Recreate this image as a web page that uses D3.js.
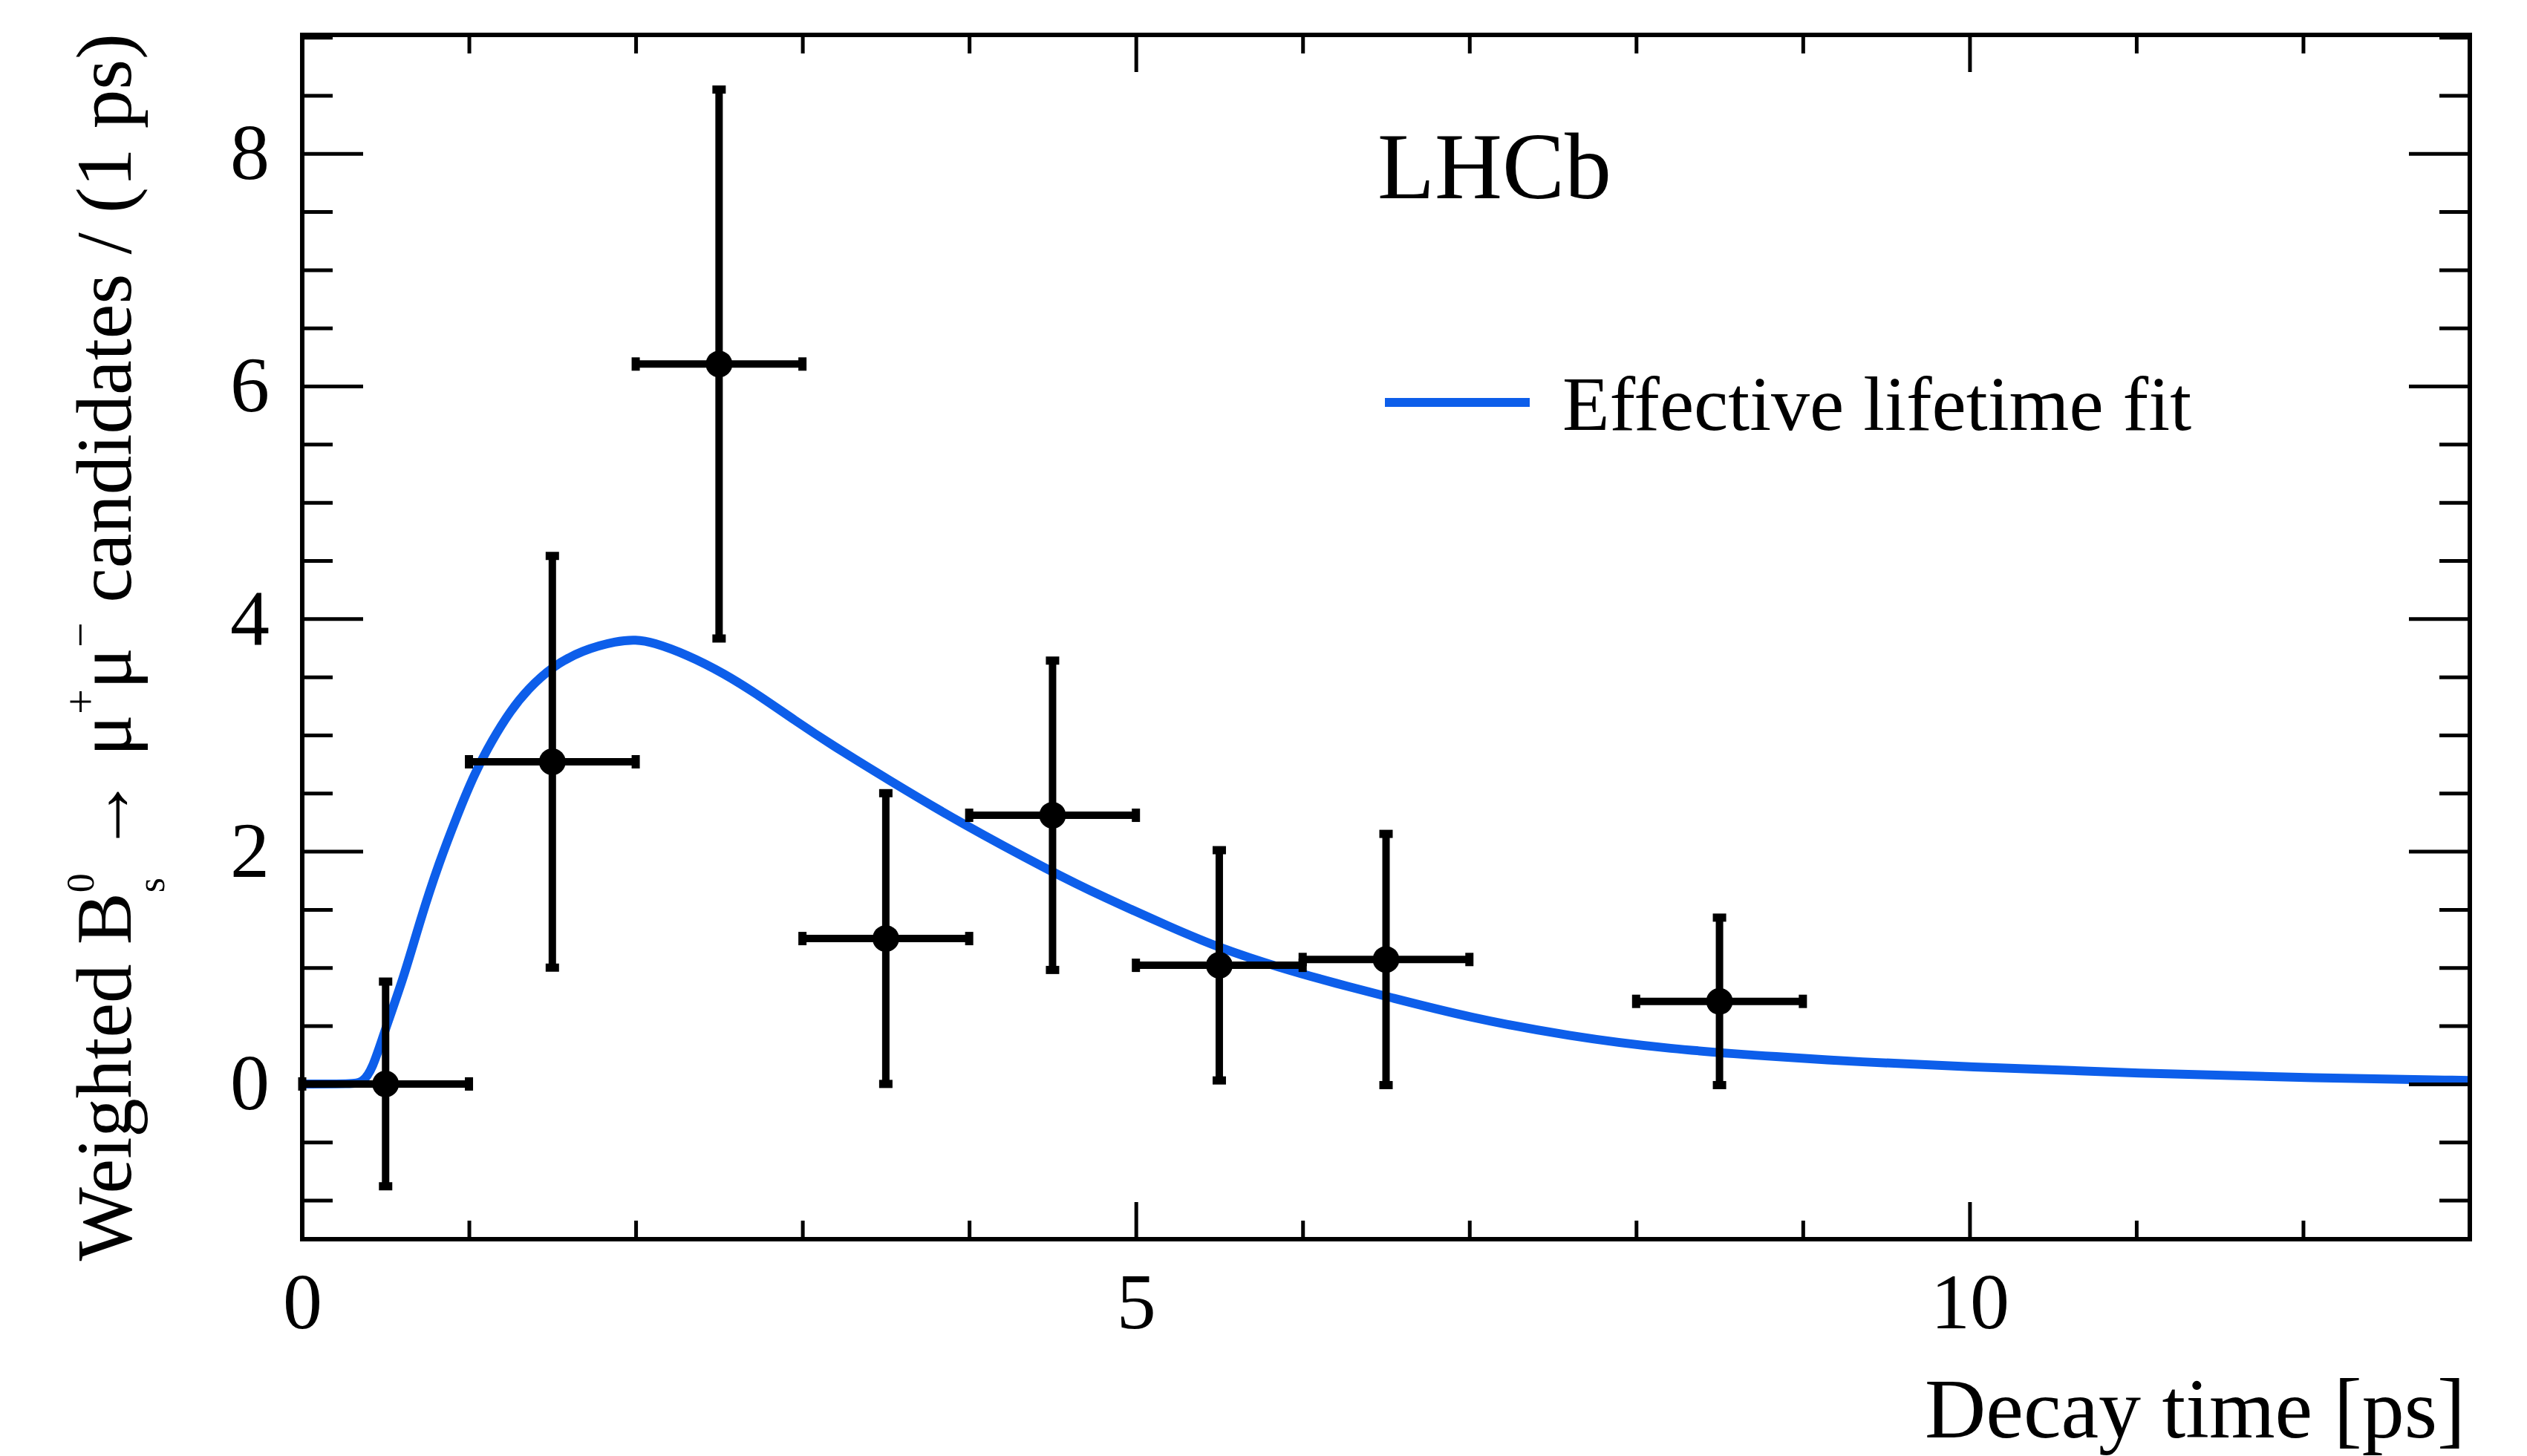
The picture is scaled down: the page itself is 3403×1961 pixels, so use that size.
<!DOCTYPE html>
<html>
<head>
<meta charset="utf-8">
<script src="https://cdn.jsdelivr.net/npm/d3@7"></script>
<style>
  body { margin: 0; background: #fff; }
  text { font-family: "Liberation Serif", "DejaVu Serif", serif; fill: #000; }
</style>
</head>
<body>
<div id="chart"></div>
<script>
// binned data (weighted candidates per 1 ps)
var binCenter = [0.5, 1.5, 2.5, 3.5, 4.5, 5.5, 6.5, 8.5];
var binHalf   = [0.5, 0.5, 0.5, 0.5, 0.5, 0.5, 0.5, 0.5];
var binValue  = [0.00, 2.77, 6.19, 1.25, 2.31, 1.02, 1.07, 0.71];
var binErr    = [0.88, 1.77, 2.36, 1.25, 1.33, 0.99, 1.08, 0.72];

// effective lifetime fit
var fitTime  = [0, 0.30, 0.36, 0.42, 0.50, 0.61, 0.71, 0.82, 0.93, 1.03, 1.14, 1.25, 1.35, 1.50, 1.68, 1.89, 2.00, 2.10, 2.31, 2.53, 2.74, 2.95, 3.17, 3.51, 3.94, 4.50, 4.80, 5.22, 5.50, 5.86, 6.21, 6.51, 7.00, 7.60, 8.19, 8.88, 9.33, 9.95, 11.02, 12.09, 13.0];
var fitValue = [0, 0, 0.01, 0.12, 0.48, 0.92, 1.42, 1.90, 2.31, 2.66, 2.96, 3.21, 3.39, 3.59, 3.73, 3.81, 3.82, 3.80, 3.69, 3.53, 3.34, 3.13, 2.92, 2.62, 2.25, 1.82, 1.61, 1.34, 1.17, 1.00, 0.86, 0.75, 0.57, 0.41, 0.30, 0.23, 0.19, 0.15, 0.09, 0.05, 0.03];

// ticks
var xMajor = [0, 5, 10];
var xMinor = [1, 2, 3, 4, 6, 7, 8, 9, 11, 12];
var yMajor = [0, 2, 4, 6, 8];
var yMinor = [-1, -0.5, 0.5, 1, 1.5, 2.5, 3, 3.5, 4.5, 5, 5.5, 6.5, 7, 7.5, 8.5, 9];

var W = 3403, H = 1961;
var margin = {top: 47, right: 77, bottom: 292, left: 407};
var width = W - margin.left - margin.right;
var height = H - margin.top - margin.bottom;

var svg = d3.select("#chart").append("svg")
  .attr("width", W)
  .attr("height", H);

var g = svg.append("g").attr("transform", "translate(" + margin.left + "," + margin.top + ")");

var x = d3.scaleLinear().domain([0, 13]).range([0, width]);
var y = d3.scaleLinear().domain([-1.335, 9.02]).range([height, 0]);

var tickFont = 106;

// clip for the curve
svg.append("defs").append("clipPath").attr("id", "clip")
  .append("rect").attr("width", width).attr("height", height);

// fit curve
var line = d3.line()
  .curve(d3.curveBasis)
  .x(function(d) { return x(d.t); })
  .y(function(d) { return y(d.v); });

var fit = fitTime.map(function(t, i) { return {t: t, v: fitValue[i]}; });

g.append("path")
  .datum(fit)
  .attr("clip-path", "url(#clip)")
  .attr("d", line)
  .attr("fill", "none")
  .attr("stroke", "#0d5eea")
  .attr("stroke-width", 12);

// axes, ROOT style: ticks point inwards, mirrored on top/right
function styleAxis(sel) {
  sel.select(".domain").remove();
  sel.selectAll(".tick line").attr("stroke", "#000").attr("stroke-width", 5);
  sel.selectAll(".tick text").style("font-size", tickFont + "px").attr("fill", "#000");
}

g.append("g").attr("transform", "translate(0," + height + ")")
  .call(d3.axisBottom(x).tickValues(xMajor).tickSize(-50).tickPadding(45).tickFormat(d3.format("d")))
  .call(styleAxis)
  .selectAll(".tick text").attr("dy", "0.71em");
g.append("g").attr("transform", "translate(0," + height + ")")
  .call(d3.axisBottom(x).tickValues(xMinor).tickSize(-25).tickFormat(""))
  .call(styleAxis);
g.append("g")
  .call(d3.axisTop(x).tickValues(xMajor).tickSize(-50).tickFormat(""))
  .call(styleAxis);
g.append("g")
  .call(d3.axisTop(x).tickValues(xMinor).tickSize(-25).tickFormat(""))
  .call(styleAxis);

g.append("g")
  .call(d3.axisLeft(y).tickValues(yMajor).tickSize(-82).tickPadding(44).tickFormat(d3.format("d")))
  .call(styleAxis);
g.append("g")
  .call(d3.axisLeft(y).tickValues(yMinor).tickSize(-41).tickFormat(""))
  .call(styleAxis);
g.append("g").attr("transform", "translate(" + width + ",0)")
  .call(d3.axisRight(y).tickValues(yMajor).tickSize(-82).tickFormat(""))
  .call(styleAxis);
g.append("g").attr("transform", "translate(" + width + ",0)")
  .call(d3.axisRight(y).tickValues(yMinor).tickSize(-41).tickFormat(""))
  .call(styleAxis);

// frame
g.append("rect")
  .attr("width", width)
  .attr("height", height)
  .attr("fill", "none")
  .attr("stroke", "#000")
  .attr("stroke-width", 6);

// data points with error bars
var pts = binCenter.map(function(c, i) {
  return {x: c, dx: binHalf[i], v: binValue[i], e: binErr[i]};
});

var pt = g.selectAll(".pt").data(pts).enter().append("g").attr("class", "pt");
var capLen = 9;

pt.append("line")
  .attr("x1", function(d) { return x(d.x); })
  .attr("x2", function(d) { return x(d.x); })
  .attr("y1", function(d) { return y(d.v - d.e); })
  .attr("y2", function(d) { return y(d.v + d.e); })
  .attr("stroke", "#000").attr("stroke-width", 10);
pt.append("line")
  .attr("x1", function(d) { return x(d.x - d.dx); })
  .attr("x2", function(d) { return x(d.x + d.dx); })
  .attr("y1", function(d) { return y(d.v); })
  .attr("y2", function(d) { return y(d.v); })
  .attr("stroke", "#000").attr("stroke-width", 10);
// end caps
[-1, 1].forEach(function(s) {
  pt.append("line")
    .attr("x1", function(d) { return x(d.x) - capLen; })
    .attr("x2", function(d) { return x(d.x) + capLen; })
    .attr("y1", function(d) { return y(d.v + s * d.e); })
    .attr("y2", function(d) { return y(d.v + s * d.e); })
    .attr("stroke", "#000").attr("stroke-width", 11);
  pt.append("line")
    .attr("x1", function(d) { return x(d.x + s * d.dx); })
    .attr("x2", function(d) { return x(d.x + s * d.dx); })
    .attr("y1", function(d) { return y(d.v) - capLen; })
    .attr("y2", function(d) { return y(d.v) + capLen; })
    .attr("stroke", "#000").attr("stroke-width", 11);
});
pt.append("circle")
  .attr("cx", function(d) { return x(d.x); })
  .attr("cy", function(d) { return y(d.v); })
  .attr("r", 18)
  .attr("fill", "#000");

// LHCb label
svg.append("text")
  .attr("x", 1855).attr("y", 267)
  .style("font-size", "126px")
  .text("LHCb");

// legend
svg.append("line")
  .attr("x1", 1865).attr("x2", 2060)
  .attr("y1", 542).attr("y2", 542)
  .attr("stroke", "#0d5eea").attr("stroke-width", 12);
svg.append("text")
  .attr("x", 2104).attr("y", 579)
  .style("font-size", "104px")
  .text("Effective lifetime fit");

// x title
svg.append("text")
  .attr("x", 3320).attr("y", 1936)
  .attr("text-anchor", "end")
  .style("font-size", "114px")
  .text("Decay time [ps]");

// y title
var yt = svg.append("text")
  .attr("transform", "translate(176,45) rotate(-90)")
  .attr("text-anchor", "end")
  .style("font-size", "105px");
yt.append("tspan").text("Weighted B");
yt.append("tspan").attr("dy", -50).style("font-size", "52px").text("0");
yt.append("tspan").attr("dx", -26).attr("dy", 95).style("font-size", "52px").text("s");
yt.append("tspan").attr("dx", 6).attr("dy", -45).text(" \u2192 \u03bc");
yt.append("tspan").attr("dy", -48).style("font-size", "60px").text("+");
yt.append("tspan").attr("dy", 48).text("\u03bc");
yt.append("tspan").attr("dy", -48).style("font-size", "60px").text("\u2212");
yt.append("tspan").attr("dy", 48).text(" candidates / (1 ps)");
</script>
</body>
</html>
